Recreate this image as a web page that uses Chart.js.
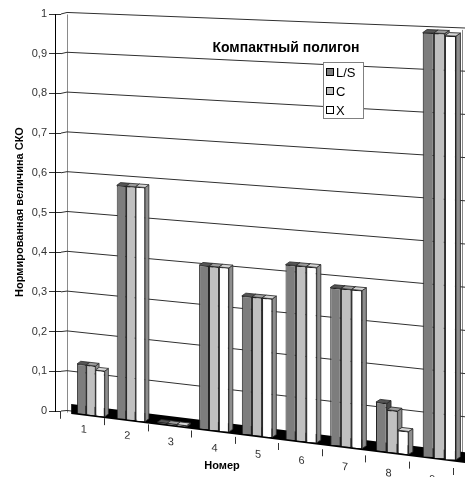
<!DOCTYPE html>
<html>
<head>
<meta charset="utf-8">
<script src="https://cdn.jsdelivr.net/npm/chart.js@4.4.1/dist/chart.umd.min.js"></script>
<style>
  html, body { margin: 0; padding: 0; background: #fff; }
  canvas { display: block; }
</style>
</head>
<body>
<canvas id="c" width="471" height="477"></canvas>
<script>
// Data
const categories = ['1', '2', '3', '4', '5', '6', '7', '8', '9'];
const seriesNames = ['L/S', 'C', 'X'];
const valuesLS = [0.125, 0.58, 0.004, 0.40, 0.335, 0.42, 0.375, 0.115, 0.99];
const valuesC  = [0.125, 0.58, 0.004, 0.40, 0.335, 0.42, 0.375, 0.100, 0.99];
const valuesX  = [0.115, 0.58, 0.004, 0.40, 0.335, 0.42, 0.375, 0.055, 0.985];
const yTickLabels = ['0', '0,1', '0,2', '0,3', '0,4', '0,5', '0,6', '0,7', '0,8', '0,9', '1'];
const chartTitle = 'Компактный полигон';
const xTitle = 'Номер';
const yTitle = 'Нормированная величина СКО';

// Styling
const FONT = "'Liberation Sans', Arial, sans-serif";
const frontColors = ['#7d7d7d', '#c0c0c0', '#ffffff'];
const sideColors  = ['#4a4a4a', '#8a8a8a', '#8e8e8e'];
const topColors   = ['#555555', '#9c9c9c', '#d6d6d6'];

// Receding view: the left front axis is drawn flat, the far right edge of the
// plot sits lower, is slightly stretched, and columns widen towards the right.
const FRONT_X = 55;      // front vertical axis
const BACK_X = 67;       // back corner of the walls
const WALL_RIGHT = 465;  // right edge of the back wall
const RIGHT_ZERO = 462;  // where value 0 lands at the right edge
const RIGHT_ONE = 30;    // where value 1 lands at the right edge
const WIDEN = 0.000266;  // horizontal widening towards the right
const LABEL_SLOPE = 0.143;
const DEPTH_X = 4, DEPTH_Y = 3;

function view(chart) {
  const ys = chart.scales.y, a = chart.chartArea;
  const y0 = ys.getPixelForValue(0), y1 = ys.getPixelForValue(1);
  const g = (RIGHT_ONE - RIGHT_ZERO) / (y1 - y0);
  const d0 = RIGHT_ZERO - g * y0, d1 = g - 1;
  const span = WALL_RIGHT - FRONT_X;
  const mid = (a.left + a.right) / 2;
  const t = x => (x - FRONT_X) / span;
  const delta = yc => d0 + d1 * yc;
  const X = x => x + WIDEN * (x - mid) * (x - mid);
  const dX = x => 1 + 2 * WIDEN * (x - mid);
  return {
    y0, y1, X,
    P: (x, yc) => yc + t(x) * delta(yc),
    // local affine map for a narrow column centred at ex with its top at ey
    local(ex, ey) {
      const m = dX(ex), xe = X(ex), te = t(xe);
      const b = delta(ey) / span * m;
      return [m, b, 0, 1 + te * d1, xe - ex * m, te * d0 - ex * b];
    }
  };
}

function poly(ctx, pts) {
  ctx.beginPath();
  ctx.moveTo(pts[0][0], pts[0][1]);
  for (let i = 1; i < pts.length; i++) ctx.lineTo(pts[i][0], pts[i][1]);
  ctx.closePath();
  ctx.fill();
  ctx.stroke();
}

const receding = {
  id: 'receding',
  beforeDatasetDraw() {
    return false; // columns are drawn together below
  },
  beforeDatasetsDraw(chart) {
    const ctx = chart.ctx, a = chart.chartArea, ys = chart.scales.y;
    const v = view(chart);

    ctx.save();
    ctx.lineWidth = 1;
    // back corner and right edge of the wall
    ctx.strokeStyle = '#8a8a8a';
    [BACK_X + 0.5, WALL_RIGHT - 2.5].forEach(x => {
      ctx.beginPath();
      ctx.moveTo(x, v.P(x, v.y1));
      ctx.lineTo(x, v.P(x, v.y0));
      ctx.stroke();
    });
    // grid: short side-wall piece, then across the back wall
    ctx.strokeStyle = '#303030';
    ys.ticks.forEach(tk => {
      const yc = ys.getPixelForValue(tk.value);
      ctx.beginPath();
      ctx.moveTo(a.left, yc);
      ctx.lineTo(BACK_X, v.P(BACK_X, yc) - 2);
      ctx.lineTo(WALL_RIGHT, v.P(WALL_RIGHT, yc) - 2);
      ctx.stroke();
    });

    // front vertical axis
    ctx.strokeStyle = '#000';
    ctx.beginPath();
    ctx.moveTo(FRONT_X + 0.5, v.y1);
    ctx.lineTo(FRONT_X + 0.5, v.y0 + 1);
    ctx.stroke();

    // floor slab
    const fl = v.X(a.left);
    ctx.fillStyle = '#000';
    ctx.beginPath();
    ctx.moveTo(fl, v.P(fl, v.y0 - 9));
    ctx.lineTo(WALL_RIGHT, v.P(WALL_RIGHT, v.y0 - 9));
    ctx.lineTo(WALL_RIGHT, v.P(WALL_RIGHT, v.y0 + 1));
    ctx.lineTo(fl, v.P(fl, v.y0 + 1));
    ctx.closePath();
    ctx.fill();
    ctx.restore();

    // columns: side and top faces first, then the front faces
    const metas = seriesNames.map((_, d) => chart.getDatasetMeta(d));
    for (let i = 0; i < categories.length; i++) {
      for (let d = 0; d < metas.length; d++) {
        const el = metas[d].data[i];
        const l = el.x - el.width / 2, r = el.x + el.width / 2;
        ctx.save();
        ctx.transform(...v.local(el.x, el.y));
        ctx.strokeStyle = '#2a2a2a';
        ctx.lineWidth = 0.8;
        ctx.fillStyle = sideColors[d];
        poly(ctx, [[r, el.base], [r + DEPTH_X, el.base - DEPTH_Y], [r + DEPTH_X, el.y - DEPTH_Y], [r, el.y]]);
        ctx.fillStyle = topColors[d];
        poly(ctx, [[l, el.y], [l + DEPTH_X, el.y - DEPTH_Y], [r + DEPTH_X, el.y - DEPTH_Y], [r, el.y]]);
        ctx.restore();
      }
      for (let d = 0; d < metas.length; d++) {
        const el = metas[d].data[i];
        ctx.save();
        ctx.transform(...v.local(el.x, el.y));
        el.draw(ctx, a);
        ctx.restore();
      }
    }
  },
  afterDatasetsDraw(chart) {
    // category labels follow the slant of the floor
    const ctx = chart.ctx;
    ctx.save();
    ctx.transform(1, LABEL_SLOPE, 0, 1, 0, -LABEL_SLOPE * FRONT_X);
  },
  afterDraw(chart) {
    const ctx = chart.ctx;
    ctx.restore();
    ctx.save();
    ctx.fillStyle = '#000';
    ctx.textAlign = 'center';
    ctx.textBaseline = 'middle';
    // title inside the plot
    ctx.font = 'bold 14px ' + FONT;
    ctx.fillText(chartTitle, 286, 48);
    // axis titles
    ctx.font = 'bold 11px ' + FONT;
    ctx.fillText(xTitle, 222, 466);
    ctx.save();
    ctx.translate(20, 212);
    ctx.rotate(-Math.PI / 2);
    ctx.fillText(yTitle, 0, 0);
    ctx.restore();
    // legend box
    const lx = 323.5, ly = 62.5, lw = 40, lh = 56;
    ctx.fillStyle = '#fff';
    ctx.fillRect(lx, ly, lw, lh);
    ctx.strokeStyle = '#808080';
    ctx.lineWidth = 1;
    ctx.strokeRect(lx, ly, lw, lh);
    ctx.font = '13px ' + FONT;
    ctx.textAlign = 'left';
    for (let d = 0; d < seriesNames.length; d++) {
      const cy = 72 + d * 19;
      ctx.fillStyle = frontColors[d];
      ctx.fillRect(326.5, cy - 3.5, 7, 7);
      ctx.strokeStyle = '#000';
      ctx.strokeRect(326.5, cy - 3.5, 7, 7);
      ctx.fillStyle = '#000';
      ctx.fillText(seriesNames[d], 336, cy + 1);
    }
    ctx.restore();
  }
};

const seriesValues = [valuesLS, valuesC, valuesX];

new Chart(document.getElementById('c'), {
  type: 'bar',
  data: {
    labels: categories,
    datasets: seriesNames.map((name, d) => ({
      label: name,
      data: seriesValues[d],
      backgroundColor: frontColors[d],
      borderColor: '#222',
      borderWidth: 1,
      categoryPercentage: 0.7,
      barPercentage: 1.0
    }))
  },
  options: {
    responsive: false,
    animation: false,
    devicePixelRatio: 1,
    layout: { padding: { top: 14, right: 18, left: 0, bottom: 0 } },
    plugins: {
      legend: { display: false },
      title: { display: false },
      tooltip: { enabled: false }
    },
    scales: {
      x: {
        grid: { display: true, drawOnChartArea: false, offset: true, tickLength: 7, color: '#333', z: 1 },
        border: { display: false },
        ticks: { font: { size: 11, family: FONT }, color: '#333', padding: 1, maxRotation: 0, labelOffset: 1, z: 1 },
        afterFit(s) { s.height = 66; }
      },
      y: {
        min: 0,
        max: 1,
        ticks: {
          stepSize: 0.1,
          padding: 2,
          font: { size: 11, family: FONT },
          color: '#333',
          callback: (val, i) => yTickLabels[i]
        },
        grid: { drawOnChartArea: false, color: '#303030', tickLength: 12 },
        border: { display: false },
        afterFit(s) { s.width = 61; }
      }
    }
  },
  plugins: [receding]
});
</script>
</body>
</html>
